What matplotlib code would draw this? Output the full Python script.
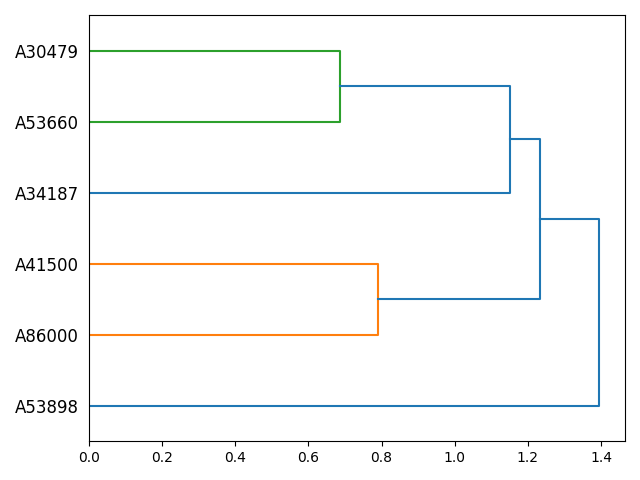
import matplotlib
matplotlib.use("Agg")
import matplotlib.pyplot as plt

# leaves from bottom to top
leaves = ["A53898", "A86000", "A41500", "A34187", "A53660", "A30479"]

# merges: (left child, right child, height, colour)
# children are leaf indices (0..5) or merge ids ("m0", "m1", ...)
merges = [
    (5, 4, 0.6855, "C2"),      # m0
    (2, 1, 0.789, "C1"),       # m1
    ("m0", 3, 1.150, "C0"),    # m2
    ("m2", "m1", 1.2325, "C0"),  # m3
    ("m3", 0, 1.3955, "C0"),   # m4
]

pos = {}
hgt = {}
for i in range(len(leaves)):
    pos[i] = 5 + 10 * i
    hgt[i] = 0.0

fig, ax = plt.subplots(figsize=(6.4, 4.8), dpi=100)

for k, (a, b, h, col) in enumerate(merges):
    ya, yb = pos[a], pos[b]
    ax.plot([hgt[a], h, h, hgt[b]], [ya, ya, yb, yb], color=col, linewidth=1.5)
    pos["m%d" % k] = (ya + yb) / 2
    hgt["m%d" % k] = h

ax.set_ylim(0, 10 * len(leaves))
ax.set_xlim(0, merges[-1][2] * 1.05)
ax.set_yticks([5 + 10 * i for i in range(len(leaves))])
ax.set_yticklabels(leaves, fontsize=12)
for line in ax.get_yticklines():
    line.set_visible(False)

plt.tight_layout()
plt.savefig("out.png")
